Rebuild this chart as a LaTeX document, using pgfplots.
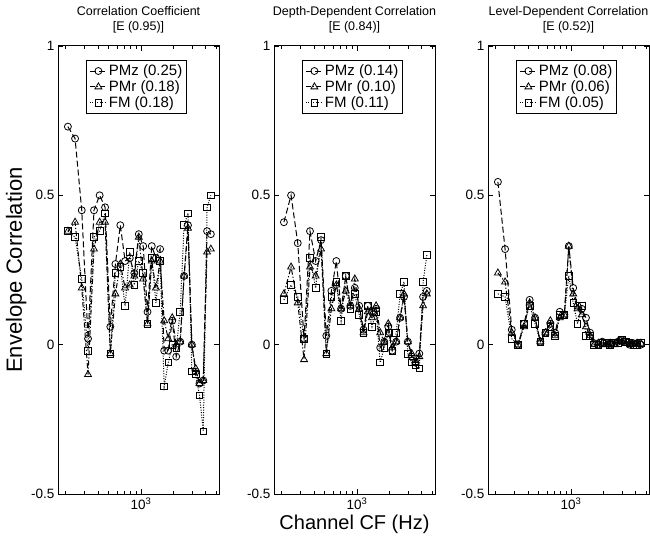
\documentclass[border=0pt]{standalone}
\usepackage{fontspec}
\setmainfont{Liberation Sans}
\usepackage{pgfplots}
\pgfplotsset{compat=1.18}
\usepackage{pgfplotstable}

% Panel 1: Correlation Coefficient
\pgfplotstableread{
f pmz pmr fm
210 0.73 0.38 0.38
244.8 0.69 0.41 0.36
282.3 0.45 0.19 0.22
323.0 0.02 -0.10 -0.02
366.8 0.45 0.32 0.36
413.9 0.50 0.41 0.38
464.8 0.46 0.41 0.44
519.9 0.06 -0.03 -0.03
579.4 0.27 0.17 0.24
643.7 0.40 0.27 0.26
712.7 0.28 0.19 0.13
787.7 0.29 0.20 0.31
868.5 0.24 0.23 0.20
955.2 0.37 0.36 0.28
1049.2 0.33 0.22 0.24
1150.6 0.11 0.07 0.07
1259.9 0.33 0.28 0.29
1378.2 0.29 0.19 0.14
1505.8 0.32 0.28 0.28
1643.2 -0.02 0.08 -0.14
1792.0 -0.02 0.02 -0.06
1952.0 0.08 0.09 0.00
2125.2 -0.04 0.00 -0.01
2312.2 0.01 0.01 0.11
2514 0.23 0.23 0.40
2731.6 0.40 0.39 0.44
2966.4 0.00 0.00 -0.09
3220.2 -0.09 -0.08 -0.10
3493.7 -0.13 -0.13 -0.17
3789.2 -0.12 -0.12 -0.29
4108 0.38 0.31 0.46
4451 0.37 0.32 0.50
}\tabA

% Panel 2: Depth-Dependent Correlation
\pgfplotstableread{
f pmz pmr fm
210 0.41 0.17 0.15
244.8 0.50 0.26 0.20
282.3 0.34 0.14 0.16
323.0 0.02 -0.05 0.02
366.8 0.38 0.26 0.29
413.9 0.28 0.23 0.19
464.8 0.35 0.32 0.36
519.9 0.03 -0.03 -0.03
579.4 0.18 0.12 0.16
643.7 0.28 0.20 0.21
712.7 0.12 0.12 0.08
787.7 0.23 0.18 0.23
868.5 0.13 0.13 0.12
955.2 0.19 0.22 0.17
1049.2 0.13 0.12 0.10
1150.6 0.05 0.04 0.04
1259.9 0.13 0.11 0.13
1378.2 0.11 0.09 0.06
1505.8 0.12 0.13 0.11
1643.2 -0.01 0.04 -0.06
1792.0 0.01 0.01 -0.01
1952.0 0.06 0.07 0.04
2125.2 -0.02 -0.01 -0.02
2312.2 0.01 0.01 0.04
2514 0.09 0.09 0.17
2731.6 0.16 0.17 0.21
2966.4 0.01 0.01 -0.03
3220.2 -0.04 -0.03 -0.06
3493.7 -0.06 -0.06 -0.07
3789.2 -0.03 -0.04 -0.08
4108 0.16 0.13 0.21
4451 0.18 0.17 0.30
}\tabB

% Panel 3: Level-Dependent Correlation
\pgfplotstableread{
f pmz pmr fm
210 0.545 0.24 0.17
244.8 0.32 0.21 0.16
282.3 0.05 0.04 0.02
323.0 0.00 0.00 0.00
366.8 0.07 0.06 0.07
413.9 0.15 0.14 0.13
464.8 0.09 0.09 0.07
519.9 0.01 0.01 0.01
579.4 0.04 0.04 0.04
643.7 0.07 0.08 0.06
712.7 0.04 0.03 0.03
787.7 0.11 0.09 0.10
868.5 0.10 0.10 0.10
955.2 0.33 0.33 0.23
1049.2 0.19 0.17 0.14
1150.6 0.13 0.12 0.07
1259.9 0.12 0.10 0.13
1378.2 0.09 0.06 0.03
1505.8 0.04 0.03 0.03
1643.2 0.005 0.00 0.00
1792.0 0.00 0.005 0.00
1952.0 0.01 0.005 0.005
2125.2 0.005 0.00 0.005
2312.2 0.00 0.005 0.00
2514 0.005 0.00 0.005
2731.6 0.01 0.01 0.005
2966.4 0.015 0.01 0.015
3220.2 0.01 0.005 0.01
3493.7 0.00 0.005 0.005
3789.2 0.005 0.00 0.00
4108 0.005 0.005 0.00
4451 0.00 0.005 0.005
}\tabC

\pgfplotsset{
  mypanel/.style={
    scale only axis, width=161pt, height=448pt,
    xmin=170, xmax=5300, ymin=-0.5, ymax=1,
    xtick={1000}, xticklabels={10\textsuperscript{3}},
    minor xtick={200,300,400,500,600,700,800,900,2000,3000,4000,5000},
    ytick={-0.5,0,0.5,1}, yticklabels={-0.5,0,0.5,1},
    tick align=inside, major tick length=5pt, minor tick length=3pt,
    every tick/.style={black, line width=0.7pt},
    axis line style={line width=1pt},
    tick label style={font=\fontsize{13.5}{16}\selectfont},
    title style={font=\fontsize{12.5}{15}\selectfont, align=center, at={(0.5,1)}, anchor=south, inner sep=0pt, yshift=7pt},
    legend style={at={(0.488,0.969)}, anchor=north, font=\fontsize{15}{17}\selectfont,
      draw=black, line width=0.9pt, inner sep=3pt, row sep=0.5pt, nodes={inner sep=1.5pt}},
    legend cell align=left,
  },
  pmzstyle/.style={black, line width=1pt, dash pattern=on 6pt off 3pt, mark=o, mark size=3.5pt, mark options={solid, line width=0.8pt}},
  pmrstyle/.style={black, line width=1pt, dash pattern=on 5pt off 2pt on 1.2pt off 2pt, mark=triangle, mark size=4pt, mark options={solid, line width=0.8pt}},
  fmstyle/.style={black, line width=1pt, dash pattern=on 1pt off 1.5pt, mark=square, mark size=3.3pt, mark options={solid, line width=0.8pt}},
}

\begin{document}
\begin{tikzpicture}
\begin{axis}[xmode=log, mypanel, at={(58pt,42pt)}, anchor=south west,
  title={Correlation Coefficient\\{[}E (0.95){]}},
  ylabel={Envelope Correlation},
  ylabel style={font=\fontsize{22}{25}\selectfont, at={(axis description cs:-0.26,0.5)}, anchor=center}]
\addplot[pmzstyle] table[x=f,y=pmz] {\tabA}; \addlegendentry{PMz (0.25)}
\addplot[pmrstyle] table[x=f,y=pmr] {\tabA}; \addlegendentry{PMr (0.18)}
\addplot[fmstyle] table[x=f,y=fm] {\tabA}; \addlegendentry{FM (0.18)}
\end{axis}

\begin{axis}[xmode=log, mypanel, at={(274pt,42pt)}, anchor=south west,
  title={Depth-Dependent Correlation\\{[}E (0.84){]}},
  xlabel={Channel CF (Hz)},
  xlabel style={font=\fontsize{20}{23}\selectfont, at={(axis description cs:0.5,-0.067)}, anchor=center}]
\addplot[pmzstyle] table[x=f,y=pmz] {\tabB}; \addlegendentry{PMz (0.14)}
\addplot[pmrstyle] table[x=f,y=pmr] {\tabB}; \addlegendentry{PMr (0.10)}
\addplot[fmstyle] table[x=f,y=fm] {\tabB}; \addlegendentry{FM (0.11)}
\end{axis}

\begin{axis}[xmode=log, mypanel, at={(488pt,42pt)}, anchor=south west,
  title={Level-Dependent Correlation\\{[}E (0.52){]}}]
\addplot[pmzstyle] table[x=f,y=pmz] {\tabC}; \addlegendentry{PMz (0.08)}
\addplot[pmrstyle] table[x=f,y=pmr] {\tabC}; \addlegendentry{PMr (0.06)}
\addplot[fmstyle] table[x=f,y=fm] {\tabC}; \addlegendentry{FM (0.05)}
\end{axis}

\pgfresetboundingbox
\path[use as bounding box] (0pt,0pt) rectangle (650pt,536pt);
\end{tikzpicture}
\end{document}
